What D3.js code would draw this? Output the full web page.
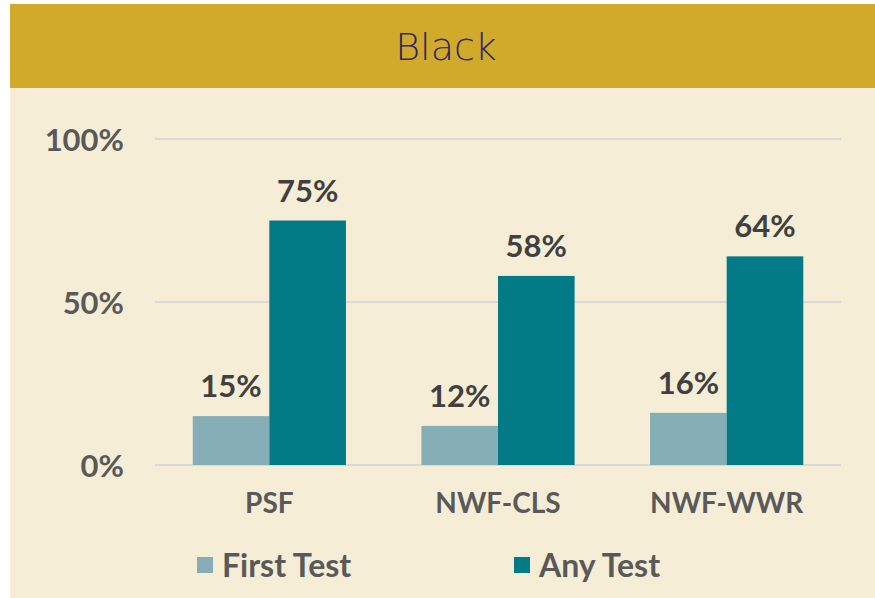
<!DOCTYPE html>
<html><head><meta charset="utf-8">
<script src="https://cdn.jsdelivr.net/npm/d3@7"></script>
<style>body{margin:0;background:#fff}svg{display:block}</style>
</head><body>
<script>
const title = "Black";
const categories = ["PSF", "NWF-CLS", "NWF-WWR"];
const seriesNames = ["First Test", "Any Test"];
const firstTest = [15, 12, 16];
const anyTest = [75, 58, 64];
const tickValues = [0, 50, 100];
const colors = ["#85aeb7", "#037b86"];

const W = 875, H = 598;
const svg = d3.select("body").append("svg").attr("width", W).attr("height", H);
svg.append("rect").attr("x", 10).attr("y", 4).attr("width", W - 10).attr("height", H - 4).attr("fill", "#f5edd6");
svg.append("rect").attr("x", 10).attr("y", 4).attr("width", W - 10).attr("height", 84).attr("fill", "#d1a92b");
svg.append("text").attr("x", 446).attr("y", 60).attr("text-anchor", "middle")
  .attr("font-family", "DejaVu Sans").attr("font-weight", 200).attr("font-size", 38)
  .attr("fill", "#2e2a5e").text(title);

const x0 = d3.scaleBand().domain(categories).range([155, 841]).paddingInner(0.33).paddingOuter(0.165);
const x1 = d3.scaleBand().domain(seriesNames).range([0, x0.bandwidth()]);
const y = d3.scaleLinear().domain([0, 100]).range([465, 139]);

const grid = svg.append("g");
grid.selectAll("line").data(tickValues).join("line")
  .attr("x1", 155).attr("x2", 841).attr("y1", d => y(d)).attr("y2", d => y(d))
  .attr("stroke", "#d9d9d9").attr("stroke-width", 2);

const yAxis = d3.axisLeft(y).tickValues(tickValues).tickFormat(d => d + "%").tickSize(0).tickPadding(0);
const ya = svg.append("g").attr("transform", "translate(124,0)").call(yAxis);
ya.select(".domain").remove();
ya.selectAll("text").attr("font-family", "Lato").attr("font-weight", 700).attr("font-size", 31)
  .attr("fill", "#595959").attr("dy", "0.36em");

const data = categories.map((c, i) => ({cat: c, vals: [firstTest[i], anyTest[i]]}));
const groups = svg.append("g").selectAll("g").data(data).join("g")
  .attr("transform", d => `translate(${x0(d.cat)},0)`);
groups.selectAll("rect").data(d => d.vals.map((v, j) => ({s: seriesNames[j], v, j}))).join("rect")
  .attr("x", d => x1(d.s)).attr("width", x1.bandwidth())
  .attr("y", d => y(d.v)).attr("height", d => y(0) - y(d.v))
  .attr("fill", d => colors[d.j]);
groups.selectAll("text").data(d => d.vals.map((v, j) => ({s: seriesNames[j], v, j}))).join("text")
  .attr("x", d => x1(d.s) + x1.bandwidth() / 2).attr("y", d => y(d.v) - 19)
  .attr("text-anchor", "middle").attr("font-family", "Lato").attr("font-weight", 700)
  .attr("font-size", 31).attr("fill", "#404040").text(d => d.v + "%");

const xAxis = d3.axisBottom(x0).tickSize(0).tickPadding(0);
const xa = svg.append("g").attr("transform", "translate(0,465)").call(xAxis);
xa.select(".domain").remove();
xa.selectAll("text").attr("font-family", "Lato").attr("font-weight", 700).attr("font-size", 28)
  .attr("fill", "#595959").attr("dy", null).attr("y", 48);

const legendX = [197, 514];
const lg = svg.append("g").selectAll("g").data(seriesNames).join("g")
  .attr("transform", (d, i) => `translate(${legendX[i]},557)`);
lg.append("rect").attr("width", 16).attr("height", 16).attr("fill", (d, i) => colors[i]);
lg.append("text").attr("x", 25).attr("y", 20).attr("font-family", "Lato").attr("font-weight", 700)
  .attr("font-size", 32).attr("fill", "#595959").text(d => d);
</script>
</body></html>
